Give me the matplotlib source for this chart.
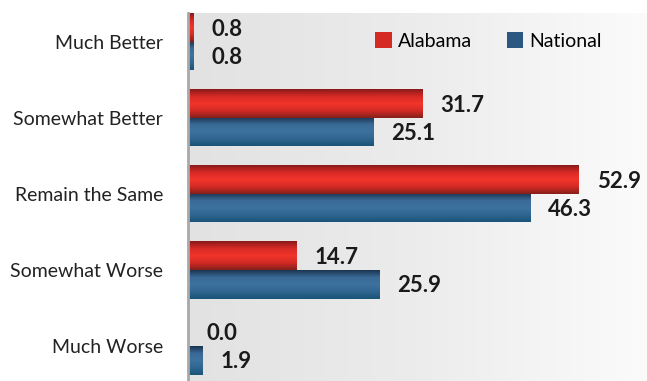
import numpy as np
import matplotlib
matplotlib.use("Agg")
import matplotlib.pyplot as plt
from matplotlib.colors import LinearSegmentedColormap
from matplotlib.patches import Patch

categories = ["Much Better", "Somewhat Better", "Remain the Same", "Somewhat Worse", "Much Worse"]
alabama = [0.8, 31.7, 52.9, 14.7, 0.0]
national = [0.8, 25.1, 46.3, 25.9, 1.9]

plt.rcParams['font.family'] = ['Lato', 'DejaVu Sans']

# vertical shading for each bar: dark edges, bright middle
red_cmap = LinearSegmentedColormap.from_list("red", ["#8a1a1a", "#d82a26", "#f2352b", "#d42a24", "#85201c"])
blue_cmap = LinearSegmentedColormap.from_list("blue", ["#1b3552", "#3a6a96", "#3e729e", "#2f6690", "#1a5478"])
bg_cmap = LinearSegmentedColormap.from_list("bg", ["#e2e2e2", "#ececec", "#fbfbfb"])

fig = plt.figure(figsize=(6.47, 3.81), dpi=100)
ax = fig.add_axes([188 / 647, 0, 1 - 188 / 647, 368 / 381])

xmax = 62.1
ylim = (4.46, -0.38)
ax.set_xlim(0, xmax)
ax.set_ylim(*ylim)

# background gradient
grad = np.linspace(0, 1, 256).reshape(1, -1)
ax.imshow(grad, cmap=bg_cmap, aspect="auto", extent=[0, xmax, ylim[0], ylim[1]], zorder=0)

y = np.arange(len(categories))
h = 0.375
bars_a = ax.barh(y - h / 2, alabama, height=h, color="none", zorder=2)
bars_n = ax.barh(y + h / 2, national, height=h, color="none", zorder=2)

shade = np.linspace(0, 1, 64).reshape(-1, 1)
for bars, cmap in [(bars_a, red_cmap), (bars_n, blue_cmap)]:
    for b in bars:
        x0, y0 = b.get_x(), b.get_y()
        w, hh = b.get_width(), b.get_height()
        if w <= 0:
            continue
        im = ax.imshow(shade, cmap=cmap, aspect="auto",
                       extent=[x0, x0 + w, y0 + hh, y0], zorder=2)
        im.set_clip_path(b)

off = 18 / 7.39
for i in range(len(categories)):
    ax.text(alabama[i] + off, y[i] - h / 2 + 0.02, f"{alabama[i]:.1f}", va="center", ha="left",
            fontsize=16, fontweight="bold", color="#1a1a1a", zorder=3)
    ax.text(national[i] + off, y[i] + h / 2 + 0.02, f"{national[i]:.1f}", va="center", ha="left",
            fontsize=16, fontweight="bold", color="#1a1a1a", zorder=3)

ax.set_yticks(y)
ax.set_yticklabels(categories, fontsize=14, color="#222222")
ax.tick_params(axis="y", length=0, pad=18)
ax.set_xticks([])
for s in ["top", "right", "bottom"]:
    ax.spines[s].set_visible(False)
ax.spines["left"].set_color("#a8a8a8")
ax.spines["left"].set_linewidth(2)
ax.spines["left"].set_zorder(4)

handles = [Patch(facecolor="#d42a24", label="Alabama"), Patch(facecolor="#2a5880", label="National")]
ax.legend(handles=handles, loc="upper left", bbox_to_anchor=(0.37, 0.995), ncol=2, frameon=False,
          fontsize=14, handlelength=0.85, handleheight=0.85, handletextpad=0.3, columnspacing=1.8)

fig.savefig("out.png", dpi=100)
